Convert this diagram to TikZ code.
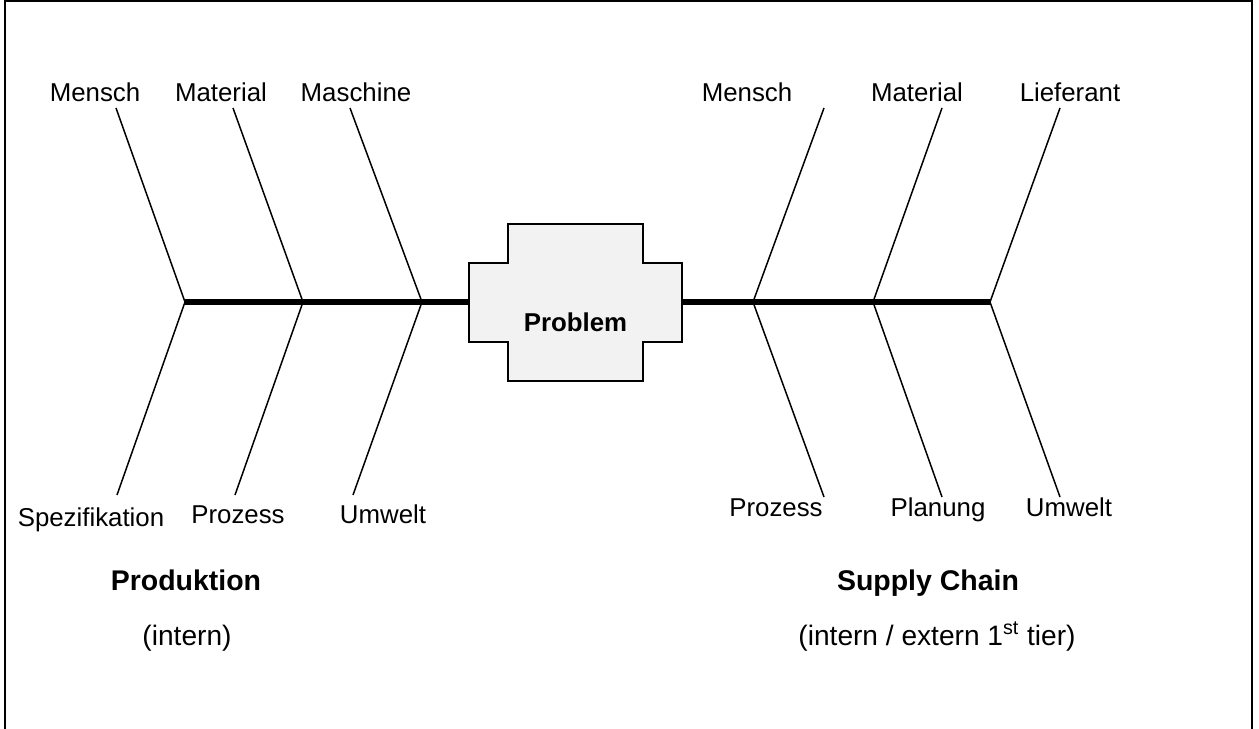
\documentclass[tikz,border=0pt]{standalone}
\usepackage{fontspec}
\setmainfont{Liberation Sans}
\usetikzlibrary{positioning}
\definecolor{BoxGray}{RGB}{242,242,242}

\tikzset{
  bone/.style={line width=0.85pt,black},
  spine/.style={line width=2.9pt,black},
  causelabel/.style={anchor=base,inner sep=0pt,font=\fontsize{14.7}{17}\selectfont},
  grouptitle/.style={anchor=base,inner sep=0pt,font=\fontsize{16.2}{19}\selectfont\bfseries},
  groupnote/.style={anchor=base,inner sep=0pt,font=\fontsize{16}{19}\selectfont}
}

\begin{document}
\begin{tikzpicture}[x=0.02cm,y=-0.02cm]
  \useasboundingbox (0,0) rectangle (1259,729);
  % frame (bottom edge lies outside the page)
  \draw[line width=1.15pt] (5,760)--(5,1)--(1252,1)--(1252,760);

  % problem box
  \draw[line width=0.9pt,fill=BoxGray] (508,224)--(643,224)--(643,263)--(682,263)--(682,342)--(643,342)
      --(643,381)--(508,381)--(508,342)--(469,342)--(469,263)--(508,263)--cycle;
  \node[anchor=base,inner sep=0pt,font=\fontsize{14.7}{17}\selectfont\bfseries] (problem) at (575.5,332) {Problem};
  \coordinate (boxL) at (469,302);
  \coordinate (boxR) at (682,302);

  % junctions on the spine
  \coordinate (jL1) at (185,302);
  \coordinate (jL2) at (303,302);
  \coordinate (jL3) at (422,302);
  \coordinate (jR1) at (753,302);
  \coordinate (jR2) at (873,302);
  \coordinate (jR3) at (990,302);

  % free ends of the bones
  \coordinate (uL1) at (116,108);
  \coordinate (uL2) at (233,108);
  \coordinate (uL3) at (350,108);
  \coordinate (dL1) at (117,495);
  \coordinate (dL2) at (235,495);
  \coordinate (dL3) at (353,495);
  \coordinate (uR1) at (824,108);
  \coordinate (uR2) at (942,108);
  \coordinate (uR3) at (1060,108);
  \coordinate (dR1) at (824,497);
  \coordinate (dR2) at (942,497);
  \coordinate (dR3) at (1060,497);

  \draw[spine] (jL1)--(boxL);
  \draw[spine] (boxR)--(jR3);

  \draw[bone] (uL1)--(jL1)--(dL1);
  \draw[bone] (uL2)--(jL2)--(dL2);
  \draw[bone] (uL3)--(jL3)--(dL3);
  \draw[bone] (uR1)--(jR1)--(dR1);
  \draw[bone] (uR2)--(jR2)--(dR2);
  \draw[bone] (uR3)--(jR3)--(dR3);

  % labels, Produktion
  \node[causelabel] (pMensch)   at (95,102)  {Mensch};
  \node[causelabel] (pMaterial) at (221,102) {Material};
  \node[causelabel] (pMaschine) at (356,102) {Maschine};
  \node[causelabel] (pSpez)     at (91,527)  {Spezifikation};
  \node[causelabel] (pProzess)  at (238,524) {Prozess};
  \node[causelabel] (pUmwelt)   at (383,524) {Umwelt};

  % labels, Supply Chain
  \node[causelabel] (sMensch)    at (747,102)  {Mensch};
  \node[causelabel] (sMaterial)  at (917,102)  {Material};
  \node[causelabel] (sLieferant) at (1070,102) {Lieferant};
  \node[causelabel] (sProzess)   at (776,517)  {Prozess};
  \node[causelabel] (sPlanung)   at (938,517)  {Planung};
  \node[causelabel] (sUmwelt)    at (1069,517) {Umwelt};

  % group titles
  \node[grouptitle] (produktion) at (186,591) {Produktion};
  \node[groupnote]  (intern)     at (187,646) {(intern)};
  \node[grouptitle] (supply)     at (928,591) {Supply Chain};
  \node[groupnote]  (extern)     at (937,646) {(intern / extern 1\textsuperscript{st} tier)};
\end{tikzpicture}
\end{document}
